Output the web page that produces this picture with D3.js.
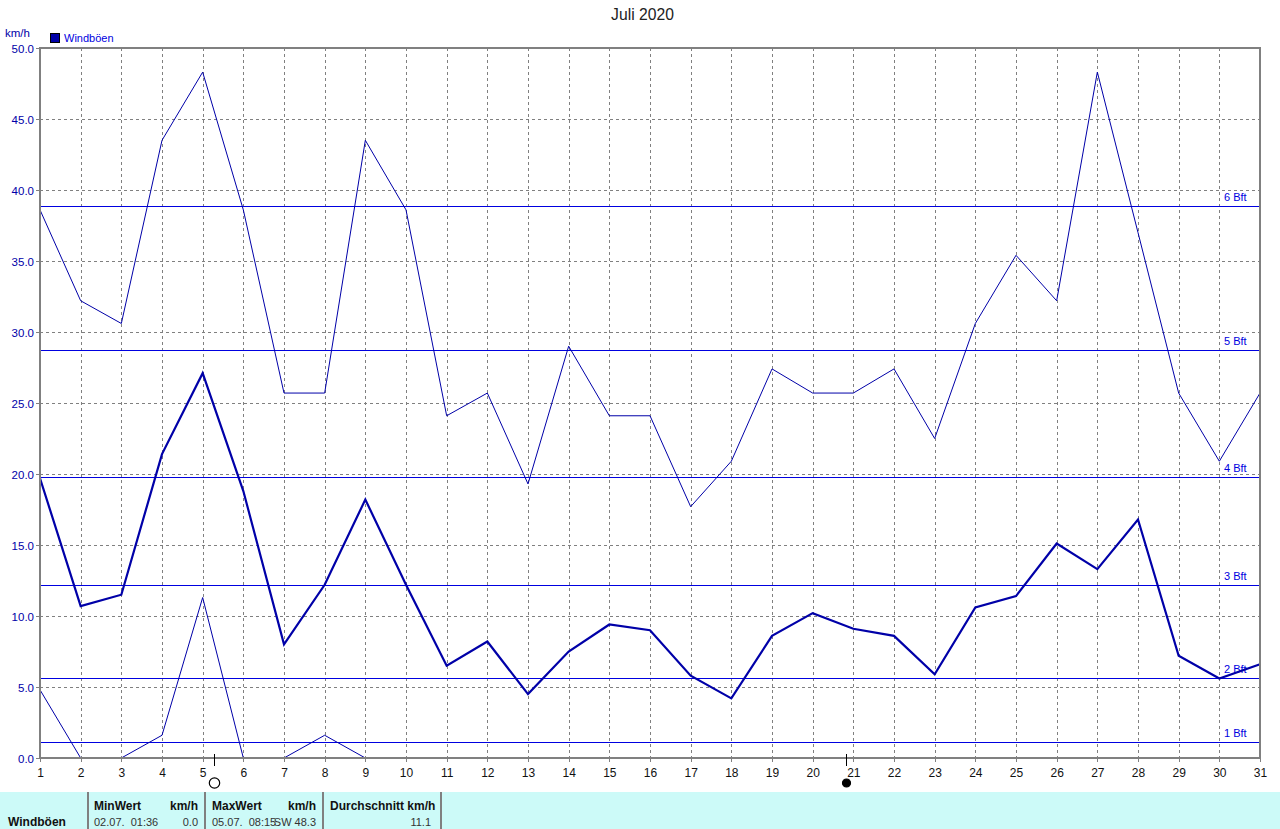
<!DOCTYPE html>
<html><head><meta charset="utf-8">
<script src="https://cdn.jsdelivr.net/npm/d3@7"></script>
<style>html,body{margin:0;padding:0;background:#fff}svg{display:block}text{font-family:"Liberation Sans",Arial,sans-serif}</style>
</head><body><svg id="c" width="1280" height="829"></svg>
<script>
const days=d3.range(1,32);
const gust=[38.6,32.2,30.6,43.5,48.3,38.6,25.7,25.7,43.5,38.6,24.1,25.7,19.3,29.0,24.1,24.1,17.7,20.9,27.4,25.7,25.7,27.4,22.5,30.6,35.4,32.2,48.3,37.0,25.7,20.9,25.7];
const mean=[19.7,10.7,11.5,21.4,27.1,18.8,8.0,12.2,18.2,12.2,6.5,8.2,4.5,7.5,9.4,9.0,5.8,4.2,8.6,10.2,9.1,8.6,5.9,10.6,11.4,15.1,13.3,16.8,7.2,5.6,6.6];
const low=[4.8,0,0,1.6,11.3,0,0,1.6,0,0,0,0,0,0,0,0,0,0,0,0,0,0,0,0,0,0,0,0,0,0,0];
const bftValues=[1.1,5.6,12.2,19.8,28.7,38.9];
const bftLabels=["1 Bft","2 Bft","3 Bft","4 Bft","5 Bft","6 Bft"];
const yTicks=d3.range(0,50.1,5);
const moonDays=[{d:5.27,full:false},{d:20.82,full:true}];
const title="Juli 2020", unit="km/h", seriesName="Windböen";
const blue="#0000a8", grey="#808080";

const svg=d3.select("#c");
const x=d3.scaleLinear().domain([1,31]).range([40,1260]);
const y=d3.scaleLinear().domain([0,50]).range([758,48]);

svg.append("text").attr("x",642.5).attr("y",20).attr("text-anchor","middle").attr("font-size",15.7).attr("fill","#222").text(title);
svg.append("text").attr("x",5).attr("y",37).attr("font-size",11.5).attr("fill",blue).text(unit);
svg.append("rect").attr("x",50.5).attr("y",33.5).attr("width",9).attr("height",9).attr("fill",blue).attr("stroke","#000").attr("stroke-width",1).attr("shape-rendering","crispEdges");
svg.append("text").attr("x",64).attr("y",42).attr("font-size",11).attr("fill","#0000e0").text(seriesName);

const grid=svg.append("g").attr("shape-rendering","crispEdges").attr("stroke",grey).attr("stroke-dasharray","3,3");
grid.selectAll("line.v").data(days.slice(1,-1)).join("line").attr("class","v").attr("x1",d=>Math.round(x(d))+.5).attr("x2",d=>Math.round(x(d))+.5).attr("y1",48).attr("y2",758);
grid.selectAll("line.h").data(yTicks.slice(1,-1)).join("line").attr("class","h").attr("x1",40).attr("x2",1260).attr("y1",d=>Math.round(y(d))+.5).attr("y2",d=>Math.round(y(d))+.5);

const bft=svg.append("g");
bft.selectAll("line").data(bftValues).join("line").attr("shape-rendering","crispEdges")
 .attr("x1",40).attr("x2",1260).attr("y1",d=>Math.round(y(d))+.5).attr("y2",d=>Math.round(y(d))+.5)
 .attr("stroke","#0000e0");
bft.selectAll("text").data(bftValues).join("text").attr("x",1224).attr("y",d=>Math.round(y(d))-5)
 .attr("font-size",11).attr("fill","#0000e0").text((d,i)=>bftLabels[i]);

const line=d3.line().x((d,i)=>x(days[i])).y(d=>y(d));
[[low,1],[gust,1],[mean,2.2]].forEach(([s,w])=>svg.append("path").attr("d",line(s)).attr("fill","none").attr("stroke",blue).attr("stroke-width",w));

const frame=svg.append("g").attr("shape-rendering","crispEdges");
frame.append("rect").attr("x",40).attr("y",48).attr("width",1220).attr("height",710).attr("fill","none").attr("stroke",grey).attr("stroke-width",2);

const yAxis=d3.axisLeft(y).tickValues(yTicks).tickFormat(d3.format(".1f")).tickSize(3).tickPadding(2);
const gy=svg.append("g").attr("transform","translate(39,0)").call(yAxis);
gy.select(".domain").remove();
gy.selectAll("line").attr("stroke",grey).attr("shape-rendering","crispEdges");
gy.selectAll("text").attr("font-size",11.5).attr("fill",blue).attr("font-family",'"Liberation Sans"').attr("dy","0.36em");

const xAxis=d3.axisBottom(x).tickValues(days).tickFormat(d3.format("d")).tickSize(3).tickPadding(6);
const gx=svg.append("g").attr("transform","translate(0,759)").call(xAxis);
gx.select(".domain").remove();
gx.selectAll("line").attr("stroke",grey).attr("shape-rendering","crispEdges");
gx.selectAll("text").attr("font-size",12).attr("fill","#111").attr("font-family",'"Liberation Sans"');

const mg=svg.append("g");
mg.selectAll("line").data(moonDays).join("line").attr("x1",d=>Math.round(x(d.d))+.5).attr("x2",d=>Math.round(x(d.d))+.5).attr("y1",754).attr("y2",766).attr("stroke","#000").attr("shape-rendering","crispEdges");
mg.selectAll("circle").data(moonDays).join("circle").attr("cx",d=>Math.round(x(d.d))+.5).attr("cy",783).attr("r",d=>d.full?4:5.2).attr("fill",d=>d.full?"#000":"#fff").attr("stroke","#000").attr("stroke-width",1.2);

// footer table
const foot=svg.append("g");
foot.append("rect").attr("x",0).attr("y",792).attr("width",1280).attr("height",37).attr("fill","#ccfaf8");
foot.selectAll("line").data([88,205,323,441]).join("line").attr("x1",d=>d).attr("x2",d=>d).attr("y1",792).attr("y2",829).attr("stroke",grey).attr("stroke-width",1.5).attr("shape-rendering","crispEdges");
const footer=[["Windböen",8,826,"start",true],["MinWert",94,810,"start",true],["km/h",198,810,"end",true],["MaxWert",212,810,"start",true],["km/h",316,810,"end",true],["Durchschnitt km/h",330,810,"start",true],
["02.07.  01:36",94,826,"start",false],["0.0",198,826,"end",false],["05.07.  08:15",212,826,"start",false],["SW 48.3",316,826,"end",false],["11.1",431,826,"end",false]];
foot.selectAll("text").data(footer).join("text").attr("x",d=>d[1]).attr("y",d=>d[2]).attr("text-anchor",d=>d[3]).attr("font-size",d=>d[4]?12:11).attr("font-weight",d=>d[4]?"bold":"normal").attr("fill",d=>d[4]?"#111":"#333").style("white-space","pre").text(d=>d[0]);
</script></body></html>
